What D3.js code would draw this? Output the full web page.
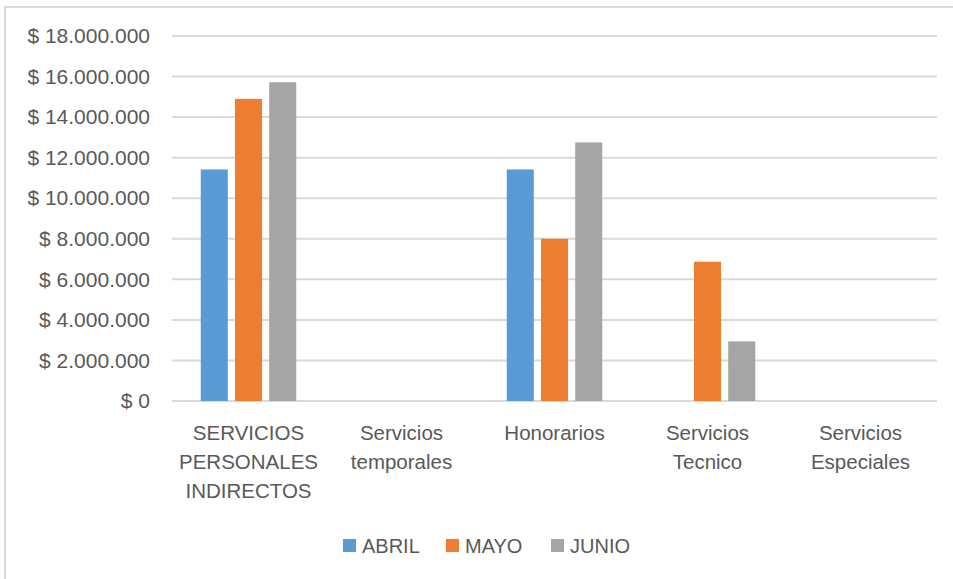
<!DOCTYPE html>
<html>
<head>
<meta charset="utf-8">
<script src="https://cdn.jsdelivr.net/npm/d3@7"></script>
<style>
  body { margin: 0; background: #fff; }
  svg { display: block; font-family: "Liberation Sans", Arial, sans-serif; }
</style>
</head>
<body>
<svg></svg>
<script>
// chart data
var categories = [
  ["SERVICIOS", "PERSONALES", "INDIRECTOS"],
  ["Servicios", "temporales"],
  ["Honorarios"],
  ["Servicios", "Tecnico"],
  ["Servicios", "Especiales"]
];
var series = ["ABRIL", "MAYO", "JUNIO"];
var abril = [11420000, 0, 11420000, 0, 0];
var mayo = [14900000, 0, 8000000, 6870000, 0];
var junio = [15720000, 0, 12750000, 2940000, 0];
var yTicks = [0, 2000000, 4000000, 6000000, 8000000, 10000000, 12000000, 14000000, 16000000, 18000000];
var colors = ["#5b9bd5", "#ed7d31", "#a5a5a5"];

var width = 953, height = 579;
var plotLeft = 172, plotRight = 937, plotTop = 36, plotBottom = 401;

var values = [abril, mayo, junio];
var rows = categories.map(function(c, i) {
  return { key: i, label: c, vals: series.map(function(s, j) { return { s: s, v: values[j][i] }; }) };
});

var svg = d3.select("svg").attr("width", width).attr("height", height);

// chart frame
svg.append("rect")
  .attr("x", 5).attr("y", 7)
  .attr("width", 1000).attr("height", 700)
  .attr("fill", "#fff")
  .attr("stroke", "#d9d9d9")
  .attr("stroke-width", 2);

var x0 = d3.scaleBand().domain(d3.range(categories.length)).range([plotLeft, plotRight]);
var x1 = d3.scaleBand().domain(series).range([0, x0.bandwidth()])
  .paddingInner(0.21).paddingOuter(0.84);
var y = d3.scaleLinear().domain([0, 18000000]).range([plotBottom, plotTop]);

var fmt = function(d) {
  return "$ " + d3.format(",")(d).replace(/,/g, ".");
};

// gridlines
svg.append("g")
  .selectAll("line")
  .data(yTicks)
  .enter()
  .append("line")
    .attr("x1", plotLeft).attr("x2", plotRight)
    .attr("y1", d => y(d)).attr("y2", d => y(d))
    .attr("stroke", "#d9d9d9")
    .attr("stroke-width", 2);

// y axis labels
var yAxis = d3.axisLeft(y).tickValues(yTicks).tickFormat(fmt).tickSize(0).tickPadding(22);
var ya = svg.append("g").attr("transform", "translate(" + plotLeft + ",0)").call(yAxis);
ya.select(".domain").remove();
ya.selectAll("text")
  .attr("fill", "#595959")
  .style("font-size", "21px")
  .style("font-family", "'Liberation Sans', Arial, sans-serif");

// bars
svg.append("g")
  .selectAll("g")
  .data(rows)
  .enter()
  .append("g")
    .attr("transform", d => "translate(" + x0(d.key) + ",0)")
  .selectAll("rect")
  .data(d => d.vals.filter(v => v.v > 0))
  .enter()
  .append("rect")
    .attr("x", d => x1(d.s))
    .attr("width", x1.bandwidth())
    .attr("y", d => y(d.v))
    .attr("height", d => y(0) - y(d.v))
    .attr("fill", d => colors[series.indexOf(d.s)]);

// category labels
var cat = svg.append("g")
  .selectAll("text")
  .data(rows)
  .enter()
  .append("text")
    .attr("x", d => x0(d.key) + x0.bandwidth() / 2)
    .attr("y", 440)
    .attr("text-anchor", "middle")
    .attr("fill", "#595959")
    .style("font-size", "20.5px");
cat.selectAll("tspan")
  .data(d => d.label)
  .enter()
  .append("tspan")
    .attr("x", function() { return d3.select(this.parentNode).attr("x"); })
    .attr("dy", (d, i) => i === 0 ? 0 : 29)
    .text(d => d);

// legend
var legendX = [343, 446, 551];
var lg = svg.append("g")
  .selectAll("g")
  .data(series)
  .enter()
  .append("g")
    .attr("transform", (d, i) => "translate(" + legendX[i] + ",539)");
lg.append("rect")
  .attr("width", 13).attr("height", 13)
  .attr("fill", (d, i) => colors[i]);
lg.append("text")
  .attr("x", 19).attr("y", 13.5)
  .attr("fill", "#595959")
  .style("font-size", "20px")
  .text(d => d);
</script>
</body>
</html>
